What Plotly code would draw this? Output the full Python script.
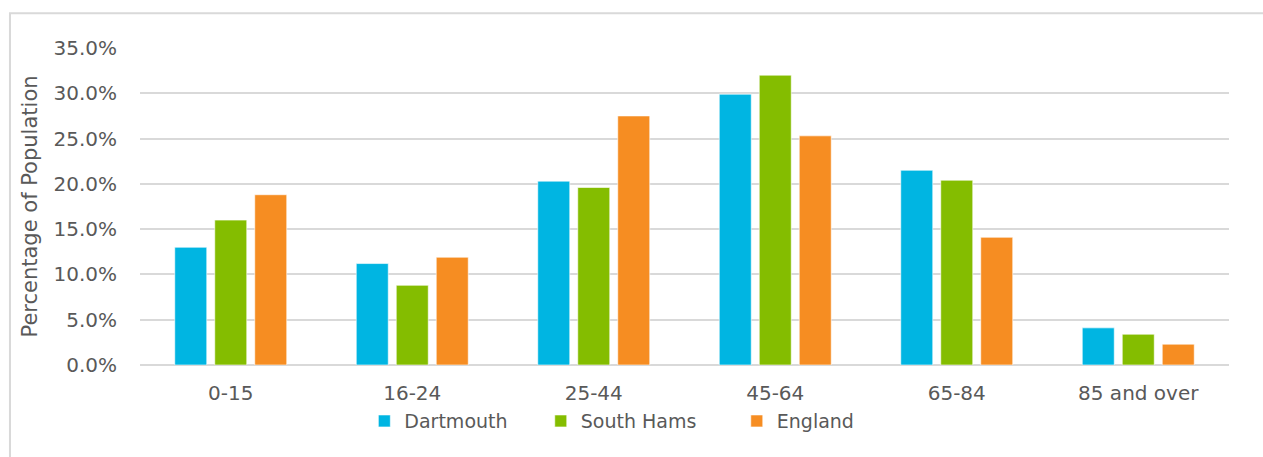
import plotly.graph_objects as go

# Age bands and share of population (%) in each area
age_bands = ["0-15", "16-24", "25-44", "45-64", "65-84", "85 and over"]
dartmouth = [13.0, 11.2, 20.3, 29.9, 21.5, 4.1]
south_hams = [16.0, 8.8, 19.6, 32.0, 20.4, 3.4]
england = [18.8, 11.9, 27.5, 25.3, 14.1, 2.3]

y_ticks = [0, 5, 10, 15, 20, 25, 30, 35]
y_tick_labels = ["0.0%", "5.0%", "10.0%", "15.0%", "20.0%", "25.0%", "30.0%", "35.0%"]

# name, values, colour, legend id, legend x (paper)
series = [
    ("Dartmouth", dartmouth, "#00B5E2", "legend", 0.206),
    ("South Hams", south_hams, "#84BD00", "legend2", 0.368),
    ("England", england, "#F68D22", "legend3", 0.548),
]

FONT = "DejaVu Sans"
TEXT = "#595959"
GRID = "#D9D9D9"

fig = go.Figure()
legends = {}
for name, values, colour, leg, lx in series:
    fig.add_trace(go.Bar(
        name=name,
        x=age_bands,
        y=values,
        legend=leg,
        marker=dict(color=colour, line=dict(color="rgba(255,255,255,0.6)", width=1)),
    ))
    legends[leg] = dict(
        orientation="h",
        x=lx,
        xanchor="left",
        y=-0.177,
        yanchor="middle",
        font=dict(family=FONT, size=19, color=TEXT),
        bgcolor="rgba(0,0,0,0)",
    )

fig.update_layout(
    width=1263,
    height=457,
    margin=dict(l=140, r=34, t=48, b=92),
    paper_bgcolor="white",
    plot_bgcolor="white",
    barmode="group",
    bargap=0.339,
    bargroupgap=0.2,
    font=dict(family=FONT, color=TEXT, size=20),
    showlegend=True,
    **legends,
    xaxis=dict(
        showgrid=False,
        showline=False,
        tickfont=dict(family=FONT, size=20, color=TEXT),
        ticklabelstandoff=14,
    ),
    yaxis=dict(
        range=[0, 35],
        tickvals=y_ticks,
        ticktext=y_tick_labels,
        showgrid=True,
        gridcolor=GRID,
        gridwidth=2,
        zeroline=True,
        zerolinecolor=GRID,
        zerolinewidth=2,
        showline=False,
        tickfont=dict(family=FONT, size=20, color=TEXT),
        ticklabelstandoff=22,
        title=dict(text="Percentage of Population", font=dict(family=FONT, size=21, color=TEXT), standoff=10),
    ),
    shapes=[
        dict(
            type="rect",
            xref="paper",
            yref="paper",
            x0=-0.1194,
            x1=1.04,
            y0=-0.34,
            y1=1.11,
            line=dict(color=GRID, width=2),
            fillcolor="rgba(0,0,0,0)",
            layer="below",
        )
    ],
)

fig.write_html("out.html")
